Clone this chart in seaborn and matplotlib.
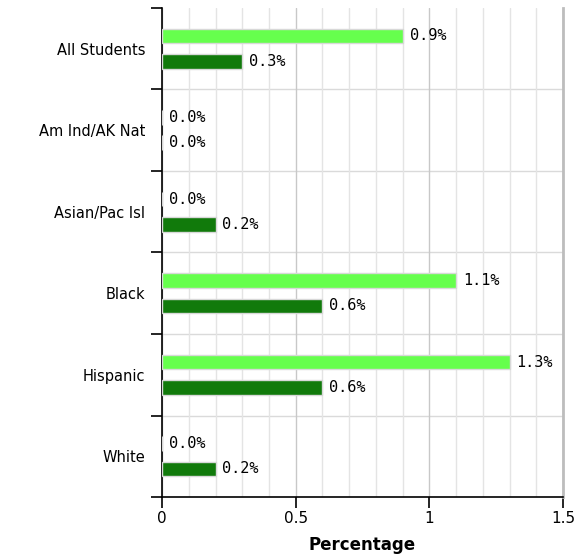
import matplotlib
matplotlib.use("Agg")
import matplotlib.pyplot as plt
import seaborn as sns
import pandas as pd
import numpy as np
from matplotlib.ticker import MultipleLocator, FixedLocator

categories = ["All Students", "Am Ind/AK Nat", "Asian/Pac Isl", "Black", "Hispanic", "White"]
series_names = ["Series 1", "Series 2"]
values_light = [0.9, 0.0, 0.0, 1.1, 1.3, 0.0]
values_dark = [0.3, 0.0, 0.2, 0.6, 0.6, 0.2]
x_ticks = [0, 0.5, 1, 1.5]
x_tick_labels = ["0", "0.5", "1", "1.5"]

df = pd.DataFrame({
    "Group": categories * 2,
    "Series": [series_names[0]] * len(categories) + [series_names[1]] * len(categories),
    "Value": values_light + values_dark,
})

sns.set_style("white")
plt.rcParams["font.family"] = ["DejaVu Sans"]
plt.rcParams["text.color"] = "black"
plt.rcParams["xtick.color"] = "black"
plt.rcParams["ytick.color"] = "black"
plt.rcParams["axes.labelcolor"] = "black"

fig = plt.figure(figsize=(5.81, 5.56), dpi=100)
ax = fig.add_axes([0.279, 0.106, 0.690, 0.880])

palette = {series_names[0]: "#66FF4D", series_names[1]: "#117A0B"}
sns.barplot(data=df, y="Group", x="Value", hue="Series", order=categories,
            hue_order=series_names, palette=palette, orient="h", width=0.62,
            gap=0.42, edgecolor="#D8D8D8", linewidth=1.0, legend=False,
            saturation=1, ax=ax, zorder=3)

ax.set_xlim(0, 1.5)
ax.set_ylim(len(categories) - 0.5, -0.5)

# grid
ax.xaxis.set_minor_locator(MultipleLocator(0.1))
ax.set_xticks(x_ticks)
ax.set_xticklabels(x_tick_labels)
ax.grid(which="minor", axis="x", color="#E4E4E4", linewidth=1.0, zorder=0)
ax.grid(which="major", axis="x", color="#C8C8C8", linewidth=1.0, zorder=0)
for b in np.arange(0.5, len(categories) - 0.5, 1.0):
    ax.axhline(b, color="#DADADA", linewidth=1.0, zorder=0)

# y ticks: labels at centers without marks; tick marks at boundaries
ax.set_yticks(range(len(categories)))
ax.set_yticklabels(categories)
ax.tick_params(axis="y", which="major", length=0, pad=12, labelsize=10.5)
ax.yaxis.set_minor_locator(FixedLocator(np.arange(-0.5, len(categories) + 0.5, 1.0)))
ax.tick_params(axis="y", which="minor", length=8, width=1.2, color="black", left=True)
ax.tick_params(axis="x", which="major", length=8, width=1.2, color="black",
               bottom=True, labelsize=11, pad=2)
ax.tick_params(axis="x", which="minor", length=0)

ax.spines["top"].set_visible(False)
ax.spines["right"].set_color("#BDBDBD")
ax.spines["right"].set_linewidth(2)
ax.spines["left"].set_color("black")
ax.spines["bottom"].set_color("black")
ax.spines["left"].set_linewidth(1.2)
ax.spines["bottom"].set_linewidth(1.2)

ax.set_ylabel("")
ax.set_xlabel("Percentage", fontsize=12, fontweight="bold", labelpad=7)

# value labels
for cont in ax.containers:
    ax.bar_label(cont, labels=[f"{v:.1f}%" for v in cont.datavalues],
                 padding=5, fontsize=11, family="DejaVu Sans Mono")

fig.savefig("out.png", dpi=100)
